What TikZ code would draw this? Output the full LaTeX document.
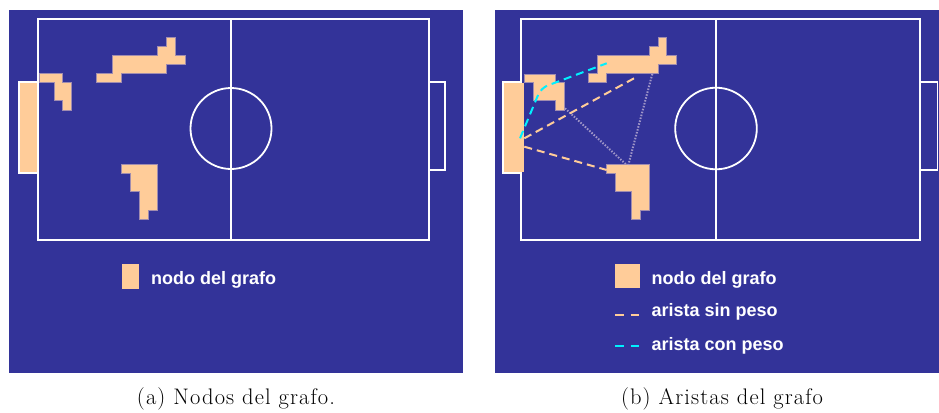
\documentclass[tikz,border=0pt]{standalone}
\usepackage{fontspec}
\newfontfamily\legendsans{Liberation Sans}
\newfontfamily\captionserif{Latin Modern Roman}[LetterSpace=5.0]
\definecolor{pitchblue}{RGB}{51,51,153}
\definecolor{peach}{RGB}{255,204,153}
\definecolor{blobedge}{RGB}{160,140,175}
\definecolor{cyanedge}{RGB}{0,240,255}
\definecolor{hint}{RGB}{160,150,200}
\tikzset{
  pitchline/.style={draw=white, line width=1.8pt},
  blob/.style={fill=peach, draw=blobedge, line width=0.7pt},
  plainedge/.style={draw=peach, line width=2pt, dash pattern=on 8pt off 5pt},
  weightedge/.style={draw=cyanedge, line width=2pt, dash pattern=on 8pt off 5pt},
  hintedge/.style={draw=hint, line width=2pt, dash pattern=on 1.5pt off 1.5pt},
  legendtext/.style={text=white, anchor=base west, inner sep=0pt,
    font=\legendsans\bfseries\fontsize{18}{20}\selectfont},
  captiontext/.style={anchor=base, inner sep=0pt,
    font=\captionserif\fontsize{22.5}{26}\selectfont}
}
\begin{document}
\begin{tikzpicture}[x=1pt,y=-1pt]
\useasboundingbox (0,0) rectangle (939,412);
\fill[white] (0,0) rectangle (939,412);

% ---------------- panel (a): nodes ----------------
\fill[pitchblue] (9,10) rectangle (463,373);
\draw[pitchline] (37.7,18.7) rectangle (429,240);
\draw[pitchline] (231,18.7) -- (231,240);
\draw[pitchline] (231,128.5) circle[radius=40.5pt];
\draw[pitchline] (429,82) -- (445,82) -- (445,170) -- (429,170);
\draw[pitchline, fill=peach] (19,81.7) rectangle (37.7,173.3);

\draw[blob] (39.5,73.3) -- (62.7,73.3) -- (62.7,82.7) -- (71.7,82.7) -- (71.7,110)
  -- (62.7,110) -- (62.7,100.7) -- (54,100.7) -- (54,82.7) -- (39.5,82.7) -- cycle;
\draw[blob] (96.7,73.3) -- (112.3,73.3) -- (112.3,55.7) -- (157.7,55.7) -- (157.7,46.7)
  -- (166.7,46.7) -- (166.7,37.3) -- (175.7,37.3) -- (175.7,55.7) -- (185,55.7)
  -- (185,64.3) -- (166.7,64.3) -- (166.7,73.3) -- (121,73.3) -- (121,82.7)
  -- (96.7,82.7) -- cycle;
\draw[blob] (121.3,164.3) -- (157.7,164.3) -- (157.7,210) -- (148.7,210) -- (148.7,219)
  -- (139.7,219) -- (139.7,191.7) -- (130.7,191.7) -- (130.7,173.3) -- (121.3,173.3) -- cycle;

\fill[peach] (121.7,264.3) rectangle (139.3,289);
\node[legendtext] (la) at (151,284.3) {nodo del grafo};

\node[captiontext] (capa) at (236,404) {(a) Nodos del grafo.};

% ---------------- panel (b): edges ----------------
\fill[pitchblue] (495,10) rectangle (939,373);
\draw[pitchline] (521,18.7) rectangle (920,240);
\draw[pitchline] (716,18.7) -- (716,240);
\draw[pitchline] (716,128.5) circle[radius=40.8pt];
\draw[pitchline] (920,82) -- (937.5,82) -- (937.5,170) -- (920,170);
\draw[pitchline, fill=peach] (502.7,81.7) rectangle (521,173.3);
\fill[peach] (520,82.7) rectangle (524.3,172.4);

\draw[blob] (524.3,74) -- (555,74) -- (555,82.7) -- (564.3,82.7) -- (564.3,110)
  -- (555.7,110) -- (555.7,100.7) -- (533.7,100.7) -- (533.7,82.7) -- (524.3,82.7) -- cycle;
\draw[blob] (588.3,73.3) -- (597.3,73.3) -- (597.3,55.7) -- (649.3,55.7) -- (649.3,46.7)
  -- (658.3,46.7) -- (658.3,37.3) -- (666.7,37.3) -- (666.7,55.7) -- (676,55.7)
  -- (676,64.3) -- (658.3,64.3) -- (658.3,73.3) -- (606.7,73.3) -- (606.7,82.7)
  -- (588.3,82.7) -- cycle;
\draw[blob] (606.7,164.3) -- (649,164.3) -- (649,210) -- (640,210) -- (640,219)
  -- (631,219) -- (631,191.7) -- (615.7,191.7) -- (615.7,173.3) -- (606.7,173.3) -- cycle;

% edge end points on the nodes
\coordinate (goalA) at (524.3,138.3);
\coordinate (goalB) at (524.3,146.7);
\coordinate (goalC) at (520,138.3);
\coordinate (leftN) at (565,108.3);
\coordinate (leftT) at (541,88);
\coordinate (topN)  at (638.3,76);
\coordinate (topC)  at (606.7,63.3);
\coordinate (topD)  at (652.3,74);
\coordinate (lowN)  at (606.7,170);
\coordinate (lowE)  at (626.7,165);
\coordinate (lowF)  at (628.3,165);

\draw[hintedge] (leftN) -- (lowE);
\draw[hintedge] (topD) -- (lowF);
\draw[plainedge] (goalA) -- (topN);
\draw[plainedge] (goalB) -- (lowN);
\draw[weightedge, rounded corners=7pt] (goalC) -- (leftT) -- (topC);

% legend
\fill[peach] (615,264.3) rectangle (640,288.3);
\node[legendtext] (lb1) at (651.5,284.3) {nodo del grafo};
\coordinate (d1a) at (615,315);
\coordinate (d1b) at (640,315);
\draw[plainedge, dash pattern=on 8.5pt off 7pt] (d1a) -- (d1b);
\node[legendtext] (lb2) at (651.5,316.7) {arista sin peso};
\coordinate (d2a) at (615,345.7);
\coordinate (d2b) at (640,345.7);
\draw[weightedge, dash pattern=on 8.5pt off 7pt] (d2a) -- (d2b);
\node[legendtext] (lb3) at (651.5,350) {arista con peso};

\node[captiontext] (capb) at (722,404) {(b) Aristas del grafo};
\end{tikzpicture}
\end{document}
